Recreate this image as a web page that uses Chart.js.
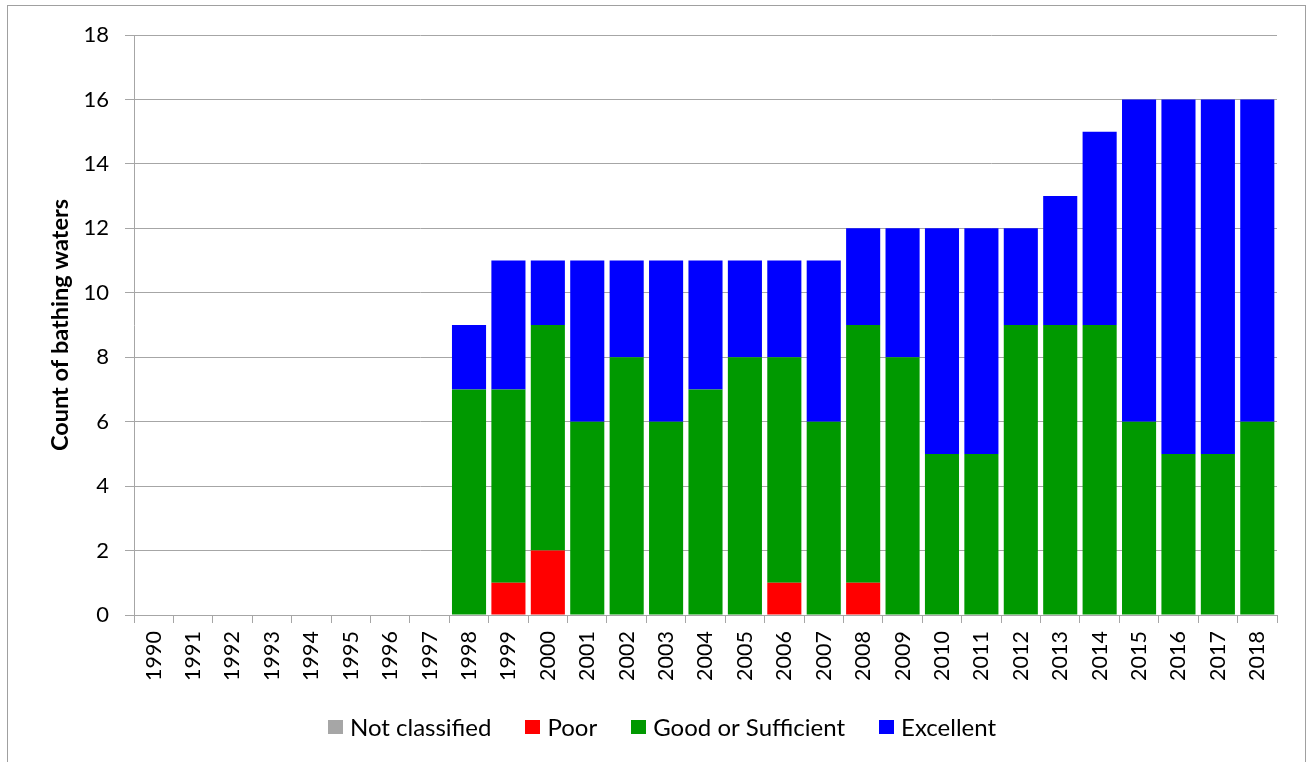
<!DOCTYPE html>
<html><head><meta charset="utf-8">
<script src="https://cdn.jsdelivr.net/npm/chart.js@4"></script>
<style>html,body{margin:0;padding:0;background:#fff}#wrap{width:1307px;height:762px;position:relative}</style>
</head><body><div id="wrap"><canvas id="c" width="1307" height="762"></canvas></div>
<script>
const years = ['1990','1991','1992','1993','1994','1995','1996','1997','1998','1999','2000','2001','2002','2003','2004','2005','2006','2007','2008','2009','2010','2011','2012','2013','2014','2015','2016','2017','2018'];
const notClassified = [0,0,0,0,0,0,0,0,0,0,0,0,0,0,0,0,0,0,0,0,0,0,0,0,0,0,0,0,0];
const poor =          [0,0,0,0,0,0,0,0,0,1,2,0,0,0,0,0,1,0,1,0,0,0,0,0,0,0,0,0,0];
const goodSufficient =[0,0,0,0,0,0,0,0,7,6,7,6,8,6,7,8,7,6,8,8,5,5,9,9,9,6,5,5,6];
const excellent =     [0,0,0,0,0,0,0,0,2,4,2,5,3,5,4,3,3,5,3,4,7,7,3,4,6,10,11,11,10];
const yTicks = [0,2,4,6,8,10,12,14,16,18];

const FONT = 'Lato, "Liberation Sans", sans-serif';
const gridCol = '#a6a6a6';

const frame = {
  id:'frame',
  beforeDraw(chart){
    const c = chart.ctx; c.save();
    c.fillStyle='#fff'; c.fillRect(0,0,chart.width,chart.height);
    c.strokeStyle='#a0a0a0'; c.lineWidth=1;
    c.strokeRect(7.5,5.5,1298,800);
    c.restore();
  }
};

const bottomLegend = {
  id:'bottomLegend',
  afterDraw(chart){
    const c = chart.ctx; c.save();
    c.font = '24px ' + FONT;
    c.textBaseline = 'middle';
    c.fillStyle = '#000';
    const boxW = 15, boxH = 14, gap = 7, spacing = 34;
    const items = chart.data.datasets.map(d => ({text:d.label, color:d.backgroundColor, w:c.measureText(d.label).width}));
    let total = 0;
    items.forEach((it,i) => { total += boxW + gap + it.w + (i < items.length-1 ? spacing : 0); });
    const cx = 662, cy = 727;
    let x = cx - total/2;
    items.forEach(it => {
      c.fillStyle = it.color;
      c.fillRect(Math.round(x), Math.round(cy - boxH/2), boxW, boxH);
      c.fillStyle = '#000';
      c.fillText(it.text, x + boxW + gap, cy + 1);
      x += boxW + gap + it.w + spacing;
    });
    c.restore();
  }
};

new Chart(document.getElementById('c'), {
  type:'bar',
  data:{
    labels: years,
    datasets:[
      {label:'Not classified', data:notClassified, backgroundColor:'#a6a6a6'},
      {label:'Poor', data:poor, backgroundColor:'#ff0000'},
      {label:'Good or Sufficient', data:goodSufficient, backgroundColor:'#009900'},
      {label:'Excellent', data:excellent, backgroundColor:'#0000ff'}
    ]
  },
  options:{
    responsive:false, animation:false,
    devicePixelRatio:1,
    layout:{padding:{left:46,top:35,right:30,bottom:0}},
    datasets:{bar:{barPercentage:0.865,categoryPercentage:1.0,borderWidth:0}},
    plugins:{
      legend:{display:false},
      tooltip:{enabled:false}
    },
    scales:{
      x:{
        stacked:true,
        grid:{drawOnChartArea:false,drawTicks:true,tickLength:8,color:gridCol,offset:true},
        border:{display:true,color:gridCol,width:1},
        ticks:{minRotation:90,maxRotation:90,autoSkip:false,padding:8,color:'#000',font:{family:FONT,size:21.5}},
        afterFit(s){ s.height = 762 - 615; }
      },
      y:{
        stacked:true, min:0, max:18,
        afterBuildTicks(s){ s.ticks = yTicks.map(v=>({value:v})); },
        grid:{color:gridCol,tickLength:9,drawTicks:true},
        border:{display:true,color:gridCol,width:1},
        ticks:{padding:16,color:'#000',font:{family:FONT,size:22}},
        title:{display:true,text:'Count of bathing waters',color:'#000',font:{family:FONT,size:23.5,weight:'bold'},padding:{top:0,bottom:0}},
        afterFit(s){ s.width = 134 - 46; }
      }
    }
  },
  plugins:[frame, bottomLegend]
});
</script></body></html>
